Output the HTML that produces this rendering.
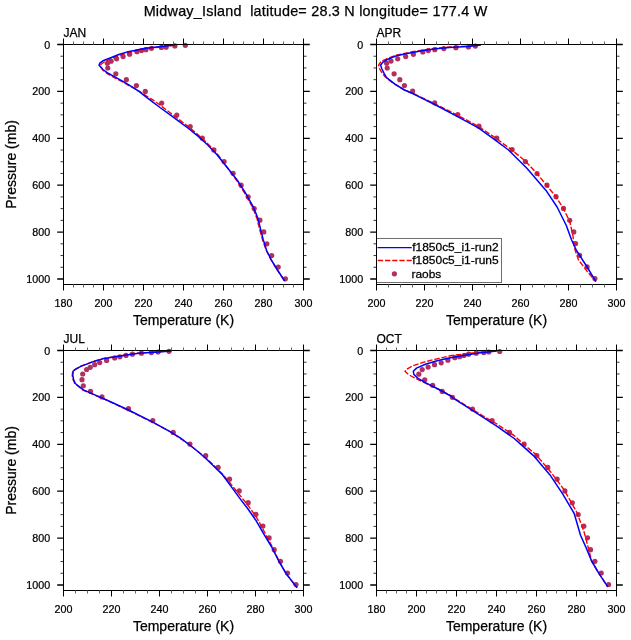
<!DOCTYPE html>
<html><head><meta charset="utf-8"><style>
html,body{margin:0;padding:0;background:#fff;}
svg{display:block;}
text{font-family:"Liberation Sans", Arial, Helvetica, sans-serif;fill:#000;stroke:#000;stroke-width:0.25px;}
.tk{font-size:11.8px;}
.pl{font-size:12px;}
.at{font-size:14px;}
.tt{font-size:14.4px;}
.lg{font-size:11.2px;}
</style></head><body>
<svg width="631" height="640" viewBox="0 0 631 640">
<rect width="631" height="640" fill="#fff"/>
<text x="315.5" y="15.7" text-anchor="middle" class="tt" xml:space="preserve" textLength="343.7">Midway_Island  latitude= 28.3 N longitude= 177.4 W</text>
<g clip-path="url(#cJAN)">
<clipPath id="cJAN"><rect x="63.5" y="41.5" width="243" height="243"/></clipPath>
<g fill="#b03060"><circle cx="185.3" cy="45.3" r="2.6"/><circle cx="174.9" cy="45.9" r="2.6"/><circle cx="166.1" cy="47.2" r="2.6"/><circle cx="161.4" cy="47.4" r="2.6"/><circle cx="151.5" cy="48.3" r="2.6"/><circle cx="145.9" cy="49.7" r="2.6"/><circle cx="141.5" cy="50.6" r="2.6"/><circle cx="137" cy="51.7" r="2.6"/><circle cx="129.6" cy="54.2" r="2.6"/><circle cx="123.1" cy="56.6" r="2.6"/><circle cx="116.6" cy="58.8" r="2.6"/><circle cx="111.1" cy="61.2" r="2.6"/><circle cx="107.4" cy="63.3" r="2.6"/><circle cx="107.8" cy="68" r="2.6"/><circle cx="115.8" cy="73.8" r="2.6"/><circle cx="126.4" cy="79.7" r="2.6"/><circle cx="136.4" cy="85.6" r="2.6"/><circle cx="145.3" cy="91.4" r="2.6"/><circle cx="161.7" cy="103.1" r="2.6"/><circle cx="176.8" cy="115" r="2.6"/><circle cx="190.2" cy="126.5" r="2.6"/><circle cx="202.3" cy="138.2" r="2.6"/><circle cx="213.9" cy="149.9" r="2.6"/><circle cx="224.1" cy="161.6" r="2.6"/><circle cx="233.1" cy="173.3" r="2.6"/><circle cx="241.1" cy="185.2" r="2.6"/><circle cx="248.2" cy="196.8" r="2.6"/><circle cx="254.2" cy="208.5" r="2.6"/><circle cx="259.9" cy="220.2" r="2.6"/><circle cx="263.8" cy="231.9" r="2.6"/><circle cx="266.9" cy="243.8" r="2.6"/><circle cx="271.7" cy="255.5" r="2.6"/><circle cx="278.2" cy="267.1" r="2.6"/><circle cx="285.4" cy="278.8" r="2.6"/></g>
<path d="M175.3 45L164.5 46.6L152.5 48L145.5 49L135 51.2L127 53L118.8 55.7L110.8 58.9L104.5 61.8L100.9 64.4L100.6 66.5L103 70.3L107.6 73.8L114.3 77.6L123.8 82.6L133.3 88L139.5 91.4L146.5 96L154.5 101L160.5 105.4L169.5 112.3L179 119.5L188.5 126.8L198 134.7L207.5 143.4L217 153.6L228 168.5L236.4 180L244 192.1L252.5 207.1L257 218.6L259.6 229.3L262.6 239.9L266.3 250.5L271.1 259.8L276.3 268.5L284.7 281" fill="none" stroke="#f00" stroke-width="1.4" stroke-dasharray="5.5 1.8"/>
<path d="M174.9 45L163.8 46.3L151.9 47.5L145 48.3L134.6 50.4L126.7 52.1L118.8 54.5L110.8 57.7L102.9 60.8L99.8 63.2L99 65.2L100.2 66.4L102.9 69.5L107.6 72.8L114.3 76.6L123.8 81.9L133.3 87.6L139 91.4L145.6 96.6L153.2 102.3L160 107.5L169.5 114.3L179 121.4L188.5 128.5L198 136.1L207.5 144.7L217 154.7L228.6 169.3L237.1 180L245 192.1L253.4 207.1L258 218.6L260.6 229.3L263.3 239.9L266.6 250.5L271.3 259.8L276.5 268.5L284.7 281" fill="none" stroke="#00f" stroke-width="1.5" stroke-linejoin="round"/>
</g>
<rect x="63.5" y="44.5" width="240" height="240" fill="none" stroke="#000" stroke-width="1"/>
<path d="M63.5 44.5v-6M63.5 284.5v6M103.5 44.5v-6M103.5 284.5v6M143.5 44.5v-6M143.5 284.5v6M183.5 44.5v-6M183.5 284.5v6M223.5 44.5v-6M223.5 284.5v6M263.5 44.5v-6M263.5 284.5v6M303.5 44.5v-6M303.5 284.5v6" stroke="#000" stroke-width="1" fill="none"/>
<path d="M63.5 44.5h-6.3M303.5 44.5h6.3M63.5 91.4h-6.3M303.5 91.4h6.3M63.5 138.3h-6.3M303.5 138.3h6.3M63.5 185.2h-6.3M303.5 185.2h6.3M63.5 232.1h-6.3M303.5 232.1h6.3M63.5 279.0h-6.3M303.5 279.0h6.3" stroke="#000" stroke-width="1.3" fill="none"/>
<path d="M63.5 56.225h-3M303.5 56.225h3M63.5 67.95h-3M303.5 67.95h3M63.5 79.675h-3M303.5 79.675h3M63.5 103.125h-3M303.5 103.125h3M63.5 114.85h-3M303.5 114.85h3M63.5 126.575h-3M303.5 126.575h3M63.5 150.025h-3M303.5 150.025h3M63.5 161.75h-3M303.5 161.75h3M63.5 173.475h-3M303.5 173.475h3M63.5 196.925h-3M303.5 196.925h3M63.5 208.65h-3M303.5 208.65h3M63.5 220.375h-3M303.5 220.375h3M63.5 243.825h-3M303.5 243.825h3M63.5 255.55h-3M303.5 255.55h3M63.5 267.275h-3M303.5 267.275h3" stroke="#000" stroke-width="0.8" fill="none"/>
<path d="M73.5 44.5v-3M73.5 284.5v3M83.5 44.5v-3M83.5 284.5v3M93.5 44.5v-3M93.5 284.5v3M113.5 44.5v-3M113.5 284.5v3M123.5 44.5v-3M123.5 284.5v3M133.5 44.5v-3M133.5 284.5v3M153.5 44.5v-3M153.5 284.5v3M163.5 44.5v-3M163.5 284.5v3M173.5 44.5v-3M173.5 284.5v3M193.5 44.5v-3M193.5 284.5v3M203.5 44.5v-3M203.5 284.5v3M213.5 44.5v-3M213.5 284.5v3M233.5 44.5v-3M233.5 284.5v3M243.5 44.5v-3M243.5 284.5v3M253.5 44.5v-3M253.5 284.5v3M273.5 44.5v-3M273.5 284.5v3M283.5 44.5v-3M283.5 284.5v3M293.5 44.5v-3M293.5 284.5v3" stroke="#666" stroke-width="1" fill="none"/>
<text transform="translate(63.5 306.6) scale(0.91 1)" text-anchor="middle" class="tk">180</text>
<text transform="translate(103.5 306.6) scale(0.91 1)" text-anchor="middle" class="tk">200</text>
<text transform="translate(143.5 306.6) scale(0.91 1)" text-anchor="middle" class="tk">220</text>
<text transform="translate(183.5 306.6) scale(0.91 1)" text-anchor="middle" class="tk">240</text>
<text transform="translate(223.5 306.6) scale(0.91 1)" text-anchor="middle" class="tk">260</text>
<text transform="translate(263.5 306.6) scale(0.91 1)" text-anchor="middle" class="tk">280</text>
<text transform="translate(303.5 306.6) scale(0.91 1)" text-anchor="middle" class="tk">300</text>
<text transform="translate(50.2 48.5) scale(0.91 1)" text-anchor="end" class="tk">0</text>
<text transform="translate(50.2 95.4) scale(0.91 1)" text-anchor="end" class="tk">200</text>
<text transform="translate(50.2 142.3) scale(0.91 1)" text-anchor="end" class="tk">400</text>
<text transform="translate(50.2 189.2) scale(0.91 1)" text-anchor="end" class="tk">600</text>
<text transform="translate(50.2 236.1) scale(0.91 1)" text-anchor="end" class="tk">800</text>
<text transform="translate(50.2 283.0) scale(0.91 1)" text-anchor="end" class="tk">1000</text>
<text x="63.5" y="37.0" class="pl">JAN</text>
<text x="183.5" y="324.6" text-anchor="middle" class="at">Temperature (K)</text>
<text transform="translate(16.200000000000003 164.5) rotate(-90)" text-anchor="middle" class="at">Pressure (mb)</text>
<g clip-path="url(#cAPR)">
<clipPath id="cAPR"><rect x="376.5" y="41.5" width="243" height="243"/></clipPath>
<g fill="#b03060"><circle cx="475.4" cy="46.1" r="2.6"/><circle cx="468.5" cy="47" r="2.6"/><circle cx="455.9" cy="47.7" r="2.6"/><circle cx="443.8" cy="48.6" r="2.6"/><circle cx="434.8" cy="49.7" r="2.6"/><circle cx="428.3" cy="50.6" r="2.6"/><circle cx="422.8" cy="51.9" r="2.6"/><circle cx="413.4" cy="54.3" r="2.6"/><circle cx="405.7" cy="56.6" r="2.6"/><circle cx="397.7" cy="58.8" r="2.6"/><circle cx="391" cy="61.1" r="2.6"/><circle cx="386.6" cy="63.3" r="2.6"/><circle cx="387.2" cy="68" r="2.6"/><circle cx="394.1" cy="73.8" r="2.6"/><circle cx="399.8" cy="79.7" r="2.6"/><circle cx="404.4" cy="85.5" r="2.6"/><circle cx="412.6" cy="91.1" r="2.6"/><circle cx="434.7" cy="102.8" r="2.6"/><circle cx="457.8" cy="114.5" r="2.6"/><circle cx="479" cy="126.2" r="2.6"/><circle cx="496.8" cy="138.1" r="2.6"/><circle cx="512.1" cy="149.7" r="2.6"/><circle cx="525.4" cy="161.6" r="2.6"/><circle cx="537.1" cy="173.5" r="2.6"/><circle cx="547" cy="185.2" r="2.6"/><circle cx="556" cy="196.7" r="2.6"/><circle cx="563.5" cy="208.4" r="2.6"/><circle cx="569.7" cy="220.3" r="2.6"/><circle cx="573.8" cy="231.9" r="2.6"/><circle cx="575.6" cy="243.6" r="2.6"/><circle cx="579.6" cy="255.3" r="2.6"/><circle cx="587.1" cy="266.9" r="2.6"/><circle cx="594.9" cy="278.6" r="2.6"/></g>
<path d="M481 45L468 46L449 47L436 48.2L423.5 50L414 51.5L404.5 53.4L395 55.5L386.5 58.8L381 61.5L378.6 65.2L379.5 68.5L381.5 72L384.4 75.9L393.5 83.6L404.5 90L414.3 94L435.7 104.3L457.1 115L478.4 126.4L494.3 137.1L511.9 150L525.4 161.1L537.2 173.8L547.5 186.5L555.5 196L563.4 208.6L569.7 221.3L572.9 235.6L574.5 248.3L578.5 259.9L587.1 271.3L595.6 281.3" fill="none" stroke="#f00" stroke-width="1.4" stroke-dasharray="5.5 1.8"/>
<path d="M480.4 45.1L468 46.4L449 47.5L436 48.7L423.5 50.6L414 52.2L404.5 54.1L395 56.2L387.4 59.5L382.7 62.3L380.6 65.2L381.7 68.5L384.1 73.3L386.5 77.6L395 84.2L404.5 90L414.3 94.3L435.7 105L457.1 116.4L478.4 127.8L494.3 139.3L508.5 150L526.9 168.2L546 190.4L557.1 207L566.3 225.5L571.6 240L576.5 250.5L587.1 267L595.9 281.6" fill="none" stroke="#00f" stroke-width="1.5" stroke-linejoin="round"/>
</g>
<rect x="376.5" y="44.5" width="240" height="240" fill="none" stroke="#000" stroke-width="1"/>
<path d="M376.5 44.5v-6M376.5 284.5v6M424.5 44.5v-6M424.5 284.5v6M472.5 44.5v-6M472.5 284.5v6M520.5 44.5v-6M520.5 284.5v6M568.5 44.5v-6M568.5 284.5v6M616.5 44.5v-6M616.5 284.5v6" stroke="#000" stroke-width="1" fill="none"/>
<path d="M376.5 44.5h-6.3M616.5 44.5h6.3M376.5 91.4h-6.3M616.5 91.4h6.3M376.5 138.3h-6.3M616.5 138.3h6.3M376.5 185.2h-6.3M616.5 185.2h6.3M376.5 232.1h-6.3M616.5 232.1h6.3M376.5 279.0h-6.3M616.5 279.0h6.3" stroke="#000" stroke-width="1.3" fill="none"/>
<path d="M376.5 56.225h-3M616.5 56.225h3M376.5 67.95h-3M616.5 67.95h3M376.5 79.675h-3M616.5 79.675h3M376.5 103.125h-3M616.5 103.125h3M376.5 114.85h-3M616.5 114.85h3M376.5 126.575h-3M616.5 126.575h3M376.5 150.025h-3M616.5 150.025h3M376.5 161.75h-3M616.5 161.75h3M376.5 173.475h-3M616.5 173.475h3M376.5 196.925h-3M616.5 196.925h3M376.5 208.65h-3M616.5 208.65h3M376.5 220.375h-3M616.5 220.375h3M376.5 243.825h-3M616.5 243.825h3M376.5 255.55h-3M616.5 255.55h3M376.5 267.275h-3M616.5 267.275h3" stroke="#000" stroke-width="0.8" fill="none"/>
<path d="M388.5 44.5v-3M388.5 284.5v3M400.5 44.5v-3M400.5 284.5v3M412.5 44.5v-3M412.5 284.5v3M436.5 44.5v-3M436.5 284.5v3M448.5 44.5v-3M448.5 284.5v3M460.5 44.5v-3M460.5 284.5v3M484.5 44.5v-3M484.5 284.5v3M496.5 44.5v-3M496.5 284.5v3M508.5 44.5v-3M508.5 284.5v3M532.5 44.5v-3M532.5 284.5v3M544.5 44.5v-3M544.5 284.5v3M556.5 44.5v-3M556.5 284.5v3M580.5 44.5v-3M580.5 284.5v3M592.5 44.5v-3M592.5 284.5v3M604.5 44.5v-3M604.5 284.5v3" stroke="#666" stroke-width="1" fill="none"/>
<text transform="translate(376.5 306.6) scale(0.91 1)" text-anchor="middle" class="tk">200</text>
<text transform="translate(424.5 306.6) scale(0.91 1)" text-anchor="middle" class="tk">220</text>
<text transform="translate(472.5 306.6) scale(0.91 1)" text-anchor="middle" class="tk">240</text>
<text transform="translate(520.5 306.6) scale(0.91 1)" text-anchor="middle" class="tk">260</text>
<text transform="translate(568.5 306.6) scale(0.91 1)" text-anchor="middle" class="tk">280</text>
<text transform="translate(616.5 306.6) scale(0.91 1)" text-anchor="middle" class="tk">300</text>
<text transform="translate(363.2 48.5) scale(0.91 1)" text-anchor="end" class="tk">0</text>
<text transform="translate(363.2 95.4) scale(0.91 1)" text-anchor="end" class="tk">200</text>
<text transform="translate(363.2 142.3) scale(0.91 1)" text-anchor="end" class="tk">400</text>
<text transform="translate(363.2 189.2) scale(0.91 1)" text-anchor="end" class="tk">600</text>
<text transform="translate(363.2 236.1) scale(0.91 1)" text-anchor="end" class="tk">800</text>
<text transform="translate(363.2 283.0) scale(0.91 1)" text-anchor="end" class="tk">1000</text>
<text x="376.5" y="37.0" class="pl">APR</text>
<text x="496.5" y="324.6" text-anchor="middle" class="at">Temperature (K)</text>
<g clip-path="url(#cJUL)">
<clipPath id="cJUL"><rect x="63.5" y="347.5" width="243" height="243"/></clipPath>
<g fill="#b03060"><circle cx="169" cy="351.3" r="2.6"/><circle cx="158" cy="352" r="2.6"/><circle cx="151.4" cy="352.6" r="2.6"/><circle cx="141.4" cy="353.2" r="2.6"/><circle cx="132.4" cy="354.2" r="2.6"/><circle cx="126" cy="355.4" r="2.6"/><circle cx="119.9" cy="356.8" r="2.6"/><circle cx="114.7" cy="357.9" r="2.6"/><circle cx="106.6" cy="360.4" r="2.6"/><circle cx="99.7" cy="362.6" r="2.6"/><circle cx="94.7" cy="364.7" r="2.6"/><circle cx="90.2" cy="367.3" r="2.6"/><circle cx="86.6" cy="369.5" r="2.6"/><circle cx="82.7" cy="374" r="2.6"/><circle cx="82" cy="379.7" r="2.6"/><circle cx="83.3" cy="385.8" r="2.6"/><circle cx="90.5" cy="391.3" r="2.6"/><circle cx="102" cy="396.9" r="2.6"/><circle cx="128.5" cy="408.7" r="2.6"/><circle cx="152.8" cy="420.6" r="2.6"/><circle cx="173.2" cy="432.4" r="2.6"/><circle cx="189.9" cy="444.1" r="2.6"/><circle cx="205.7" cy="455.7" r="2.6"/><circle cx="218.1" cy="467.4" r="2.6"/><circle cx="229.5" cy="479.2" r="2.6"/><circle cx="239.2" cy="490.9" r="2.6"/><circle cx="248.2" cy="502.7" r="2.6"/><circle cx="255.9" cy="514.3" r="2.6"/><circle cx="262.9" cy="526.1" r="2.6"/><circle cx="269.1" cy="537.9" r="2.6"/><circle cx="274.2" cy="549.7" r="2.6"/><circle cx="280.5" cy="561.3" r="2.6"/><circle cx="287.5" cy="573" r="2.6"/><circle cx="296" cy="584.6" r="2.6"/></g>
<path d="M171.5 350.9L158 351.8L139 353L130 354.3L115.5 356.6L104.4 358.2L93.3 361.4L80.8 366.2L75.1 369.4L72.8 371L72.2 375.5L73 379.5L74.8 383.5L83 390.1L94.8 395.1L106.6 400.2L128.5 410.4L152.8 422.5L170 431.5L189 444.2L206.1 458.2L212.8 464.4L222.7 474.3L231.4 484.7L240.2 495.6L248.9 506.6L256.6 517.5L263.7 530.6L270.5 543.5L276.5 555.5L279 561L286.3 573.9L297.1 587.8" fill="none" stroke="#f00" stroke-width="1.4" stroke-dasharray="5.5 1.8"/>
<path d="M171.3 351L158 352L139 353.2L130 354.5L115.5 356.8L104.4 358.4L93.3 361.6L80.8 366.4L75.1 369.6L73.2 371L72.8 375.5L73.6 379.5L75.3 383.5L83.4 389.9L94.8 394.9L106.6 400L128.5 410L152.8 422.1L170 431.7L179.5 437.4L189 444.5L198.5 452L206.1 458.8L212.8 465.2L222.5 474.8L231.4 486.9L240.2 498.9L247.8 508.8L255.5 519.7L263.7 533.9L271.7 547L278.7 561L286.3 573.9L297.1 587.8" fill="none" stroke="#00f" stroke-width="1.5" stroke-linejoin="round"/>
</g>
<rect x="63.5" y="350.5" width="240" height="240" fill="none" stroke="#000" stroke-width="1"/>
<path d="M63.5 350.5v-6M63.5 590.5v6M111.5 350.5v-6M111.5 590.5v6M159.5 350.5v-6M159.5 590.5v6M207.5 350.5v-6M207.5 590.5v6M255.5 350.5v-6M255.5 590.5v6M303.5 350.5v-6M303.5 590.5v6" stroke="#000" stroke-width="1" fill="none"/>
<path d="M63.5 350.5h-6.3M303.5 350.5h6.3M63.5 397.4h-6.3M303.5 397.4h6.3M63.5 444.3h-6.3M303.5 444.3h6.3M63.5 491.2h-6.3M303.5 491.2h6.3M63.5 538.1h-6.3M303.5 538.1h6.3M63.5 585.0h-6.3M303.5 585.0h6.3" stroke="#000" stroke-width="1.3" fill="none"/>
<path d="M63.5 362.225h-3M303.5 362.225h3M63.5 373.95h-3M303.5 373.95h3M63.5 385.675h-3M303.5 385.675h3M63.5 409.125h-3M303.5 409.125h3M63.5 420.85h-3M303.5 420.85h3M63.5 432.575h-3M303.5 432.575h3M63.5 456.025h-3M303.5 456.025h3M63.5 467.75h-3M303.5 467.75h3M63.5 479.475h-3M303.5 479.475h3M63.5 502.925h-3M303.5 502.925h3M63.5 514.65h-3M303.5 514.65h3M63.5 526.375h-3M303.5 526.375h3M63.5 549.825h-3M303.5 549.825h3M63.5 561.55h-3M303.5 561.55h3M63.5 573.275h-3M303.5 573.275h3" stroke="#000" stroke-width="0.8" fill="none"/>
<path d="M75.5 350.5v-3M75.5 590.5v3M87.5 350.5v-3M87.5 590.5v3M99.5 350.5v-3M99.5 590.5v3M123.5 350.5v-3M123.5 590.5v3M135.5 350.5v-3M135.5 590.5v3M147.5 350.5v-3M147.5 590.5v3M171.5 350.5v-3M171.5 590.5v3M183.5 350.5v-3M183.5 590.5v3M195.5 350.5v-3M195.5 590.5v3M219.5 350.5v-3M219.5 590.5v3M231.5 350.5v-3M231.5 590.5v3M243.5 350.5v-3M243.5 590.5v3M267.5 350.5v-3M267.5 590.5v3M279.5 350.5v-3M279.5 590.5v3M291.5 350.5v-3M291.5 590.5v3" stroke="#666" stroke-width="1" fill="none"/>
<text transform="translate(63.5 612.6) scale(0.91 1)" text-anchor="middle" class="tk">200</text>
<text transform="translate(111.5 612.6) scale(0.91 1)" text-anchor="middle" class="tk">220</text>
<text transform="translate(159.5 612.6) scale(0.91 1)" text-anchor="middle" class="tk">240</text>
<text transform="translate(207.5 612.6) scale(0.91 1)" text-anchor="middle" class="tk">260</text>
<text transform="translate(255.5 612.6) scale(0.91 1)" text-anchor="middle" class="tk">280</text>
<text transform="translate(303.5 612.6) scale(0.91 1)" text-anchor="middle" class="tk">300</text>
<text transform="translate(50.2 354.5) scale(0.91 1)" text-anchor="end" class="tk">0</text>
<text transform="translate(50.2 401.4) scale(0.91 1)" text-anchor="end" class="tk">200</text>
<text transform="translate(50.2 448.3) scale(0.91 1)" text-anchor="end" class="tk">400</text>
<text transform="translate(50.2 495.2) scale(0.91 1)" text-anchor="end" class="tk">600</text>
<text transform="translate(50.2 542.1) scale(0.91 1)" text-anchor="end" class="tk">800</text>
<text transform="translate(50.2 589.0) scale(0.91 1)" text-anchor="end" class="tk">1000</text>
<text x="63.5" y="343.0" class="pl">JUL</text>
<text x="183.5" y="630.6" text-anchor="middle" class="at">Temperature (K)</text>
<text transform="translate(16.200000000000003 470.5) rotate(-90)" text-anchor="middle" class="at">Pressure (mb)</text>
<g clip-path="url(#cOCT)">
<clipPath id="cOCT"><rect x="376.5" y="347.5" width="243" height="243"/></clipPath>
<g fill="#b03060"><circle cx="499.7" cy="351.5" r="2.6"/><circle cx="488.7" cy="352" r="2.6"/><circle cx="483.8" cy="352.6" r="2.6"/><circle cx="476.2" cy="353.2" r="2.6"/><circle cx="468.6" cy="354.2" r="2.6"/><circle cx="463.9" cy="355.5" r="2.6"/><circle cx="459.6" cy="356.7" r="2.6"/><circle cx="454.8" cy="357.7" r="2.6"/><circle cx="447.9" cy="360.2" r="2.6"/><circle cx="441.2" cy="362.8" r="2.6"/><circle cx="434.5" cy="364.7" r="2.6"/><circle cx="428.1" cy="367.1" r="2.6"/><circle cx="422.2" cy="369.6" r="2.6"/><circle cx="418.8" cy="374.2" r="2.6"/><circle cx="424.7" cy="379.8" r="2.6"/><circle cx="432.7" cy="385.3" r="2.6"/><circle cx="442.2" cy="391.4" r="2.6"/><circle cx="452.4" cy="397.3" r="2.6"/><circle cx="472.5" cy="409" r="2.6"/><circle cx="492.1" cy="420.7" r="2.6"/><circle cx="509.5" cy="432.4" r="2.6"/><circle cx="524.1" cy="444.1" r="2.6"/><circle cx="536.8" cy="455.7" r="2.6"/><circle cx="547.8" cy="467.4" r="2.6"/><circle cx="557.1" cy="479.2" r="2.6"/><circle cx="564.9" cy="490.9" r="2.6"/><circle cx="572.3" cy="502.8" r="2.6"/><circle cx="578.2" cy="514.5" r="2.6"/><circle cx="583.8" cy="526.2" r="2.6"/><circle cx="587.5" cy="537.8" r="2.6"/><circle cx="590.5" cy="549.7" r="2.6"/><circle cx="594.9" cy="561.3" r="2.6"/><circle cx="601.2" cy="573" r="2.6"/><circle cx="608.6" cy="584.5" r="2.6"/></g>
<path d="M497.5 350.9L479 352.3L463.4 354.1L450.7 355.7L438 358.6L425.4 361.7L412.7 365.8L406.3 369.4L405.1 371.3L407.6 373.8L412.7 377L419 380.1L425.4 383.2L438 389L450.7 395.6L454.3 398.3L468.5 407L482.8 415.8L497.1 424.2L514.2 435.6L524.3 445L535.7 454.3L551.4 472.8L564.2 489.9L577 512.7L584 531.7L588.1 547L591.6 561L599.2 573.9L607.8 586.8" fill="none" stroke="#f00" stroke-width="1.4" stroke-dasharray="5.5 1.8"/>
<path d="M496.6 351L479 352.9L463.4 355.4L450.7 357.7L438 360.5L425.4 364.3L416.5 368.1L413.3 371.3L413.9 374.4L417.7 378.2L425.4 382.7L438 389L450.7 396L454.3 398.8L468.5 407.8L482.8 417.1L497.1 426.4L514.2 438.5L520 443.6L534.3 456.4L550 474.9L562.8 494.2L574.2 513.5L580.5 535.2L586.3 548.1L591.6 561L599.2 573.9L607.8 586.8" fill="none" stroke="#00f" stroke-width="1.5" stroke-linejoin="round"/>
</g>
<rect x="376.5" y="350.5" width="240" height="240" fill="none" stroke="#000" stroke-width="1"/>
<path d="M376.5 350.5v-6M376.5 590.5v6M416.5 350.5v-6M416.5 590.5v6M456.5 350.5v-6M456.5 590.5v6M496.5 350.5v-6M496.5 590.5v6M536.5 350.5v-6M536.5 590.5v6M576.5 350.5v-6M576.5 590.5v6M616.5 350.5v-6M616.5 590.5v6" stroke="#000" stroke-width="1" fill="none"/>
<path d="M376.5 350.5h-6.3M616.5 350.5h6.3M376.5 397.4h-6.3M616.5 397.4h6.3M376.5 444.3h-6.3M616.5 444.3h6.3M376.5 491.2h-6.3M616.5 491.2h6.3M376.5 538.1h-6.3M616.5 538.1h6.3M376.5 585.0h-6.3M616.5 585.0h6.3" stroke="#000" stroke-width="1.3" fill="none"/>
<path d="M376.5 362.225h-3M616.5 362.225h3M376.5 373.95h-3M616.5 373.95h3M376.5 385.675h-3M616.5 385.675h3M376.5 409.125h-3M616.5 409.125h3M376.5 420.85h-3M616.5 420.85h3M376.5 432.575h-3M616.5 432.575h3M376.5 456.025h-3M616.5 456.025h3M376.5 467.75h-3M616.5 467.75h3M376.5 479.475h-3M616.5 479.475h3M376.5 502.925h-3M616.5 502.925h3M376.5 514.65h-3M616.5 514.65h3M376.5 526.375h-3M616.5 526.375h3M376.5 549.825h-3M616.5 549.825h3M376.5 561.55h-3M616.5 561.55h3M376.5 573.275h-3M616.5 573.275h3" stroke="#000" stroke-width="0.8" fill="none"/>
<path d="M386.5 350.5v-3M386.5 590.5v3M396.5 350.5v-3M396.5 590.5v3M406.5 350.5v-3M406.5 590.5v3M426.5 350.5v-3M426.5 590.5v3M436.5 350.5v-3M436.5 590.5v3M446.5 350.5v-3M446.5 590.5v3M466.5 350.5v-3M466.5 590.5v3M476.5 350.5v-3M476.5 590.5v3M486.5 350.5v-3M486.5 590.5v3M506.5 350.5v-3M506.5 590.5v3M516.5 350.5v-3M516.5 590.5v3M526.5 350.5v-3M526.5 590.5v3M546.5 350.5v-3M546.5 590.5v3M556.5 350.5v-3M556.5 590.5v3M566.5 350.5v-3M566.5 590.5v3M586.5 350.5v-3M586.5 590.5v3M596.5 350.5v-3M596.5 590.5v3M606.5 350.5v-3M606.5 590.5v3" stroke="#666" stroke-width="1" fill="none"/>
<text transform="translate(376.5 612.6) scale(0.91 1)" text-anchor="middle" class="tk">180</text>
<text transform="translate(416.5 612.6) scale(0.91 1)" text-anchor="middle" class="tk">200</text>
<text transform="translate(456.5 612.6) scale(0.91 1)" text-anchor="middle" class="tk">220</text>
<text transform="translate(496.5 612.6) scale(0.91 1)" text-anchor="middle" class="tk">240</text>
<text transform="translate(536.5 612.6) scale(0.91 1)" text-anchor="middle" class="tk">260</text>
<text transform="translate(576.5 612.6) scale(0.91 1)" text-anchor="middle" class="tk">280</text>
<text transform="translate(616.5 612.6) scale(0.91 1)" text-anchor="middle" class="tk">300</text>
<text transform="translate(363.2 354.5) scale(0.91 1)" text-anchor="end" class="tk">0</text>
<text transform="translate(363.2 401.4) scale(0.91 1)" text-anchor="end" class="tk">200</text>
<text transform="translate(363.2 448.3) scale(0.91 1)" text-anchor="end" class="tk">400</text>
<text transform="translate(363.2 495.2) scale(0.91 1)" text-anchor="end" class="tk">600</text>
<text transform="translate(363.2 542.1) scale(0.91 1)" text-anchor="end" class="tk">800</text>
<text transform="translate(363.2 589.0) scale(0.91 1)" text-anchor="end" class="tk">1000</text>
<text x="376.5" y="343.0" class="pl">OCT</text>
<text x="496.5" y="630.6" text-anchor="middle" class="at">Temperature (K)</text>
<rect x="376.5" y="238.5" width="125" height="44" fill="#fff" stroke="#6e6e6e" stroke-width="1"/>
<path d="M377.5 247.6H411.8" stroke="#00f" stroke-width="1.3"/>
<path d="M377.8 260.4H411.8" stroke="#f00" stroke-width="1.5" stroke-dasharray="5.3 1.9"/>
<circle cx="394.4" cy="273.8" r="2.6" fill="#b03060"/>
<text transform="translate(412.2 251) scale(1.07 1)" class="lg">f1850c5_i1-run2</text>
<text transform="translate(412.2 264) scale(1.07 1)" class="lg">f1850c5_i1-run5</text>
<text transform="translate(411.4 277.6) scale(1.07 1)" class="lg">raobs</text>
<path d="M376.5 238V284" stroke="#000" stroke-width="1"/>
</svg>
</body></html>
